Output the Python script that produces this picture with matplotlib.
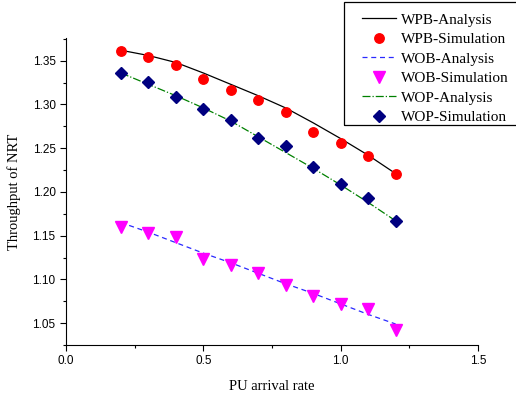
import numpy as np
import matplotlib
matplotlib.use("Agg")
import matplotlib.pyplot as plt
from matplotlib.patches import Rectangle
from matplotlib.ticker import MultipleLocator

# PU arrival rate
x = [0.2, 0.3, 0.4, 0.5, 0.6, 0.7, 0.8, 0.9, 1.0, 1.1, 1.2]

# throughput of NRT
wpb_analysis = [1.362, 1.356, 1.348, 1.336, 1.323, 1.310, 1.296, 1.279, 1.261, 1.242, 1.221]
wpb_sim = [1.361, 1.354, 1.345, 1.329, 1.317, 1.305, 1.291, 1.268, 1.256, 1.241, 1.221]
wob_analysis = [1.165, 1.154, 1.142, 1.130, 1.119, 1.107, 1.095, 1.084, 1.072, 1.060, 1.049]
wob_sim = [1.160, 1.153, 1.148, 1.123, 1.117, 1.107, 1.094, 1.081, 1.072, 1.066, 1.042]
wop_analysis = [1.336, 1.323, 1.310, 1.296, 1.281, 1.263, 1.245, 1.227, 1.208, 1.188, 1.167]
wop_sim = [1.336, 1.326, 1.309, 1.295, 1.282, 1.262, 1.253, 1.228, 1.209, 1.193, 1.167]

xticks = [0.0, 0.5, 1.0, 1.5]
yticks = [1.05, 1.10, 1.15, 1.20, 1.25, 1.30, 1.35]

serif = "Liberation Serif"
sans = "Liberation Sans"

fig = plt.figure(figsize=(5.16, 4.0), dpi=100)
ax = fig.add_axes([66 / 516, 55 / 400, 412 / 516, 307 / 400])

ax.plot(x, wpb_analysis, color="black", lw=0.9, label="WPB-Analysis")
ax.plot(x, wpb_sim, "o", color="red", ms=6.8, label="WPB-Simulation")
ax.plot(x, wob_analysis, "--", color="#2a2aff", lw=0.9, dashes=(4, 3), label="WOB-Analysis")
ax.plot(x, wob_sim, "v", color="magenta", ms=8, label="WOB-Simulation")
ax.plot(x, wop_analysis, "-.", color="green", lw=0.9, label="WOP-Analysis")
ax.plot(x, wop_sim, "D", color="navy", ms=6.3, label="WOP-Simulation")

ax.set_xlim(0, 1.5)
ax.set_ylim(1.025, 1.376)
ax.set_xticks(xticks)
ax.set_xticklabels([f"{v:.1f}" for v in xticks])
ax.set_yticks(yticks)
ax.set_yticklabels([f"{v:.2f}" for v in yticks])
ax.xaxis.set_minor_locator(MultipleLocator(0.25))
ax.yaxis.set_minor_locator(MultipleLocator(0.025))

for s in ["top", "right"]:
    ax.spines[s].set_visible(False)
ax.tick_params(which="major", direction="out", length=4, width=0.8, labelsize=8.5)
ax.tick_params(which="minor", direction="out", length=2.5, width=0.8)
for lab in ax.get_xticklabels() + ax.get_yticklabels():
    lab.set_fontfamily(sans)

ax.set_xlabel("PU arrival rate", fontfamily=serif, fontsize=10.5, labelpad=9)
ax.set_ylabel("Throughput of NRT", fontfamily=serif, fontsize=10.5, labelpad=8)

# legend box sits in the top right corner, partly above the axes
fig.patches.append(Rectangle((344 / 516, 1 - 125 / 400), 200 / 516, 123 / 400,
                             transform=fig.transFigure, fill=False,
                             edgecolor="black", lw=0.9))
leg = fig.legend(loc="upper left", bbox_to_anchor=(362 / 516, 1 - 13 / 400),
                 prop={"family": serif, "size": 11}, frameon=False,
                 handlelength=2.2, handletextpad=0.35,
                 labelspacing=0.38, borderpad=0, borderaxespad=0)

fig.savefig("out.png", dpi=100)
